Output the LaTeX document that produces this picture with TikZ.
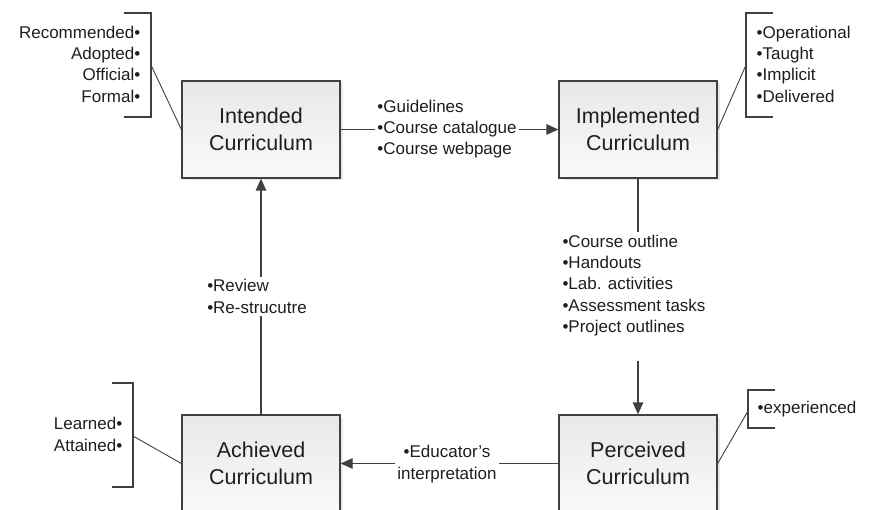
\documentclass[tikz,border=0pt]{standalone}
\usepackage{fontspec}
\setmainfont{Liberation Sans}
\usetikzlibrary{positioning,calc,arrows.meta,shadows}
\definecolor{linegray}{HTML}{404040}
\definecolor{txtgray}{HTML}{1E1E1E}
\newcommand*{\boxfont}{\fontsize{21.5}{27}\selectfont}
\newcommand*{\lblfont}{\fontsize{17}{21.3}\selectfont}

\begin{document}
\begin{tikzpicture}[x=1pt,y=-1pt,
  curbox/.style={rectangle,draw=linegray,line width=1.3pt,
    minimum width=158pt,minimum height=97pt,
    top color=black!9,bottom color=black!2,
    drop shadow={opacity=0.18,shadow xshift=2.5pt,shadow yshift=-2.5pt},
    font=\boxfont,text=txtgray,align=center},
  lbl/.style={font=\lblfont,text=txtgray,inner sep=2.5pt},
  flowpart/.style={draw=linegray,line width=1.3pt},
  flow/.style={flowpart,-{Triangle[length=12pt,width=10.5pt]}},
  link/.style={draw=linegray,line width=0.9pt},
  brack/.style={draw=linegray,line width=1.2pt}]
\useasboundingbox (0,0) rectangle (869,510);
% The four curricula
\node[curbox] (intended)    at (261,129.5) {Intended\\Curriculum};
\node[curbox] (implemented) at (638,129.5) {Implemented\\Curriculum};
\node[curbox] (perceived)   at (638,463.5) {Perceived\\Curriculum};
\node[curbox] (achieved)    at (261,463.5) {Achieved\\Curriculum};
% Labels on the arrows
\node[lbl,align=left]   (docs)      at (447,129)   {•Guidelines\\•Course catalogue\\•Course webpage};
\node[lbl,align=left]   (materials) at (634,285.5) {•Course outline\\•Handouts\\•Lab. activities\\•Assessment tasks\\•Project outlines};
\node[lbl,align=center] (interp)    at (447,464)   {•Educator's\\interpretation};
\node[lbl,align=left]   (review)    at (257,296.5) {•Review\\•Re-strucutre};
% The cycle: each arrow is drawn in two parts round its label
\draw[flowpart] (intended.east) -- (intended.east -| docs.west);
\draw[flow] (implemented.west -| docs.east) -- (implemented.west);
\draw[flowpart] (implemented.south) -- (implemented.south |- materials.north);
\draw[flow,shorten <=22pt] (perceived.north |- materials.south) -- (perceived.north);
\draw[flowpart] (perceived.west) -- (perceived.west -| interp.east);
\draw[flow] (achieved.east -| interp.west) -- (achieved.east);
\draw[flowpart] (achieved.north) -- (achieved.north |- review.south);
\draw[flow] (intended.south |- review.north) -- (intended.south);
% Kinds of intended curriculum
\node[lbl,align=right,anchor=east] (kindsI) at (143,64) {Recommended•\\Adopted•\\Official•\\Formal•};
\coordinate (brI) at (151,65);
\draw[brack] (124,13) -- (151,13) -- (151,117) -- (124,117);
\draw[link] (brI) -- (intended.west);
% Kinds of implemented curriculum
\node[lbl,align=left,anchor=west] (kindsM) at (754,64) {•Operational\\•Taught\\•Implicit\\•Delivered};
\coordinate (brM) at (746,65);
\draw[brack] (773,13) -- (746,13) -- (746,117) -- (773,117);
\draw[link] (brM) -- (implemented.east);
% Kinds of achieved curriculum
\node[lbl,align=right,anchor=east] (kindsA) at (125,434.5) {Learned•\\Attained•};
\coordinate (brA) at (133,436);
\draw[brack] (112,383) -- (133,383) -- (133,487) -- (112,487);
\draw[link] (brA) -- (achieved.west);
% Kind of perceived curriculum
\node[lbl,anchor=west] (kindsP) at (755,409) {•experienced};
\coordinate (brP) at (748,411);
\draw[brack] (775,390) -- (748,390) -- (748,428) -- (775,428);
\draw[link] (brP) -- (perceived.east);
\end{tikzpicture}
\end{document}
